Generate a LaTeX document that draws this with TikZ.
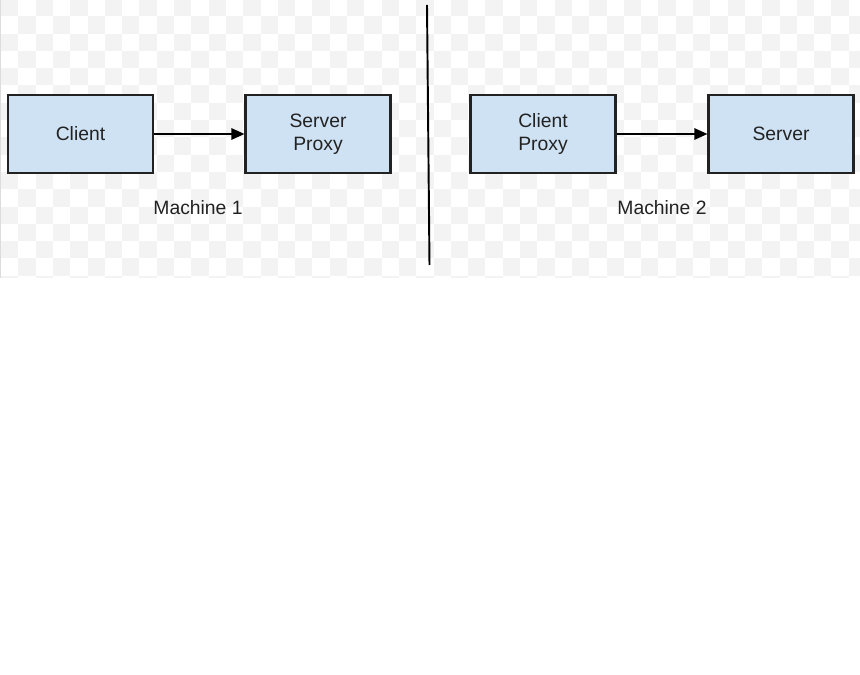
\documentclass[tikz,border=0pt]{standalone}
\usepackage{fontspec}
\setmainfont{Liberation Sans}
\usetikzlibrary{arrows.meta}
\definecolor{boxblue}{HTML}{CFE2F3}
\definecolor{checkgray}{HTML}{F3F3F3}
\definecolor{inkgray}{HTML}{222222}
\tikzset{
  machinebox/.style={draw=inkgray, fill=boxblue, line width=1.2pt,
    minimum width=2.9cm, minimum height=1.56cm, inner sep=0pt,
    align=center, text=inkgray, font=\fontsize{11}{13}\selectfont},
  machinelabel/.style={text=inkgray, font=\fontsize{11}{13}\selectfont},
  callarrow/.style={draw=black, line width=1.1pt, -{Triangle[length=7.5pt,width=6.5pt]}}
}
\begin{document}
\begin{tikzpicture}[x=0.02cm, y=-0.02cm]
      \useasboundingbox (0,0) rectangle (860,675);
      \fill[white] (0,0) rectangle (860,675);
      %
      \begin{scope}
        \clip (0,0) rectangle (860,278);
        \foreach \i in {0,...,49}{
          \foreach \j in {0,...,16}{
            \pgfmathparse{int(mod(\i+\j,2))}
            \ifnum\pgfmathresult=0
              \fill[checkgray] (1+\i*17.3,-1+\j*17.3) rectangle ++(17.3,17.3);
            \fi
          }
        }
      \end{scope}
      \draw[checkgray!80!gray, line width=0.5pt] (0.5,0) -- (0.5,278);
      %
      \node[machinebox] (client) at (80.5,134) {Client};
      \node[machinebox] (serverproxy) at (318,134) {Server\\Proxy};
      \node[machinebox] (clientproxy) at (543,134) {Client\\Proxy};
      \node[machinebox] (server) at (781,134) {Server};
      %
      \draw[callarrow] (client) -- (serverproxy);
      \draw[callarrow] (clientproxy) -- (server);
      %
      \node[machinelabel] (machineone) at (198,208) {Machine 1};
      \node[machinelabel] (machinetwo) at (662,208) {Machine 2};
      %
      \coordinate (divtop) at (427,5);
      \coordinate (divbottom) at (429.5,265);
      \draw[black, line width=1.1pt] (divtop) -- (divbottom);
      %
    \end{tikzpicture}
\end{document}
